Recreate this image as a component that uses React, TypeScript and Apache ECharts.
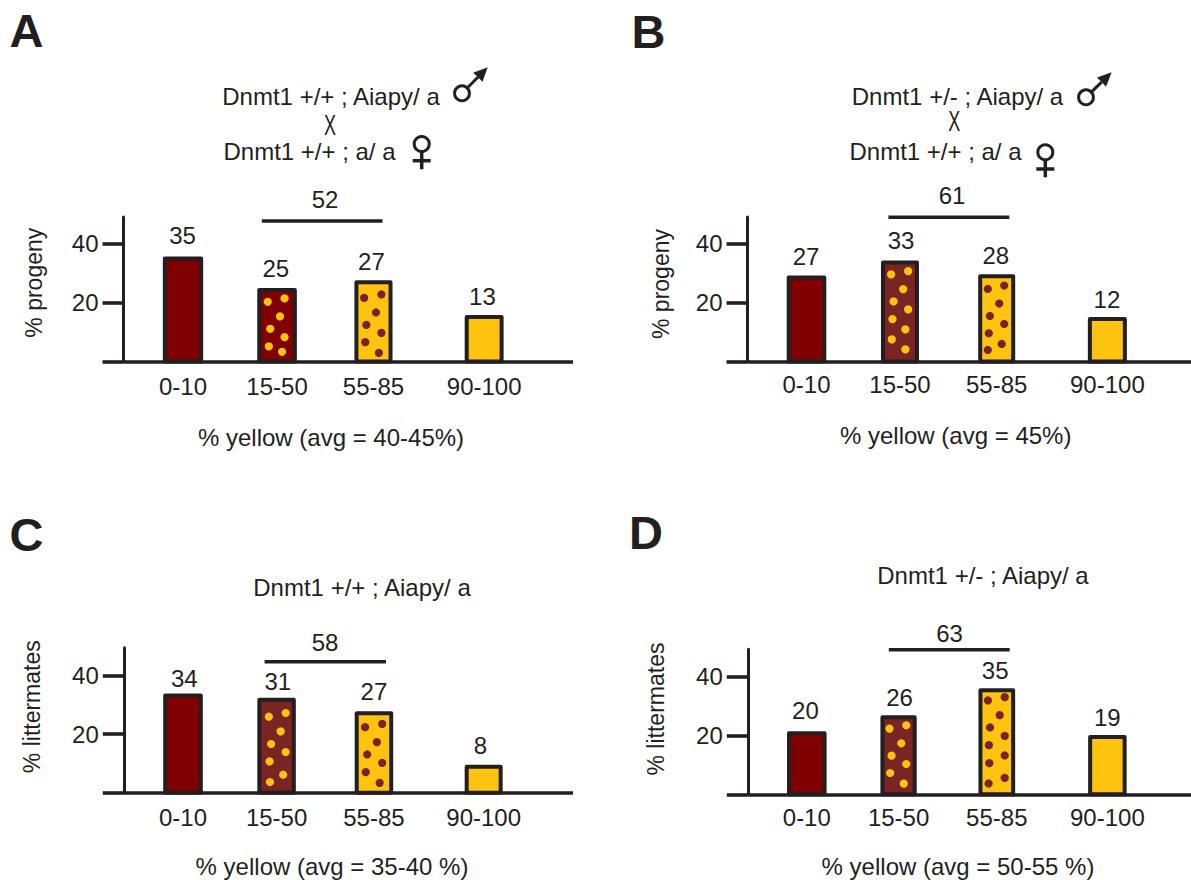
import React, { useEffect, useRef } from "react";
import * as echarts from "echarts";

// ---------- data ----------
const binLabels = ["0-10", "15-50", "55-85", "90-100"];
const tickValues = [20, 40];

const heightsA = [34.9, 24.2, 26.9, 15.1];
const heightsB = [28.5, 33.6, 28.9, 14.4];
const heightsC = [33.2, 31.8, 27.2, 8.9];
const heightsD = [20.7, 26.1, 35.3, 19.4];

const shownA = ["35", "25", "27", "13"];
const shownB = ["27", "33", "28", "12"];
const shownC = ["34", "31", "27", "8"];
const shownD = ["20", "26", "35", "19"];

const slotsA = [0, 0.99, 2.005, 3.17];
const slotsB = [0, 0.984, 2.002, 3.167];
const slotsC = [0, 0.985, 2.01, 3.165];
const slotsD = [0, 0.966, 2.0, 3.164];

// ---------- styling and layout ----------
const INK = "#231f20";
const FONT = "'Liberation Sans', Arial, sans-serif";
const RED = "#800000";
const RED2 = "#7b2424";
const YEL = "#fdc30e";
const DOT_RED = "#7a2226";
const SW = 4;
const UNIT = 95;
const FS = 24;
const TEXT_DY = -1;

type Dots = number[][];
const dA1: Dots = [[-9.3,13.7],[7.5,10.3],[2.9,28.3],[-6.8,40.7],[7.5,49],[-8.2,58.3],[5,63.7]];
const dA2: Dots = [[-9.3,17.7],[7.9,14.3],[2.5,32.3],[-7.1,44.7],[7.9,52.7],[-8.2,62],[5.4,72.7]];
const dB1: Dots = [[-8.9,14],[8.2,10.7],[3.2,28.7],[-6.4,41],[8.2,49],[-7.5,58.7],[5.4,69],[-8.2,79],[5.4,89]];
const dB2: Dots = [[-8.9,14.7],[7.5,11.3],[2.5,29.3],[-6.8,41.7],[7.5,49.7],[-7.9,59],[5,69.7],[-8.9,75.7]];
const dC1: Dots = [[-7.7,19],[9.1,15.3],[4.1,33.7],[-5.5,46.3],[9.1,54.3],[-7,63.7],[6.6,77],[-6.6,84.3]];
const dC2: Dots = [[-8.9,16],[8.2,12.7],[2.9,31],[-6.8,43.3],[8.2,51.7],[-8.2,61],[5.7,71.7]];
const dD1: Dots = [[-9.1,13.3],[7.7,10],[2.7,28],[-7,40.3],[7.7,48.7],[-8.4,57.7],[5.2,68.3]];
const dD2: Dots = [[-8.9,12.3],[7.9,9],[2.9,27],[-6.8,39.3],[7.9,47.7],[-7.9,57],[7.9,67.3],[-7.5,75],[7.9,89.7],[-8.2,95.3]];

const panels = [
  { heights: heightsA, shown: shownA, slots: slotsA, left: 123.5, right: 573, base: 361.5, top: 217, scale: 2.95, origin: 183,
    widths: [40.3, 39.6, 38.1, 38.9], ldx: [-0.5, -1.3, -2, -1.7], ldy: [-21, -20, -18.3, -18.7],
    dots: [null, dA1, dA2, null], mid: RED, tickMargin: 13 },
  { heights: heightsB, shown: shownB, slots: slotsB, left: 747.5, right: 1191, base: 361.5, top: 217, scale: 2.95, origin: 806.5,
    widths: [39.6, 38, 37, 39], ldx: [-0.5, 1, -0.9, -0.4], ldy: [-19.3, -20, -19, -18],
    dots: [null, dB1, dB2, null], mid: RED2, tickMargin: 11 },
  { heights: heightsC, shown: shownC, slots: slotsC, left: 123.8, right: 573, base: 792.7, top: 647.7, scale: 2.925, origin: 183,
    widths: [39.6, 38.5, 38.5, 38], ldx: [1.3, 1.3, 0, -3.2], ldy: [-15, -15.7, -20, -19],
    dots: [null, dC1, dC2, null], mid: RED2, tickMargin: 13 },
  { heights: heightsD, shown: shownD, slots: slotsD, left: 747.8, right: 1191, base: 794.3, top: 649.3, scale: 2.95, origin: 806.8,
    widths: [39.6, 36.3, 36.7, 38.5], ldx: [-1.4, 1, -1.6, -0.1], ldy: [-20.7, -18.3, -17.7, -18],
    dots: [null, dD1, dD2, null], mid: RED2, tickMargin: 11 },
];

const txt = (text: string, x: number, y: number, extra: any = {}, style: any = {}) => ({
  type: "text", x, y: y + TEXT_DY, silent: true, ...extra,
  style: { text, x: 0, y: 0, fill: INK, fontFamily: FONT, fontSize: FS, align: "center", verticalAlign: "middle", ...style },
});

const hline = (x1: number, x2: number, y: number, w = 3.5) => ({
  type: "line", silent: true,
  shape: { x1, y1: y, x2, y2: y },
  style: { stroke: INK, lineWidth: w },
});

const male = (cx: number, cy: number, tx: number, ty: number) => {
  const dx = tx - cx, dy = ty - cy, L = Math.hypot(dx, dy), ux = dx / L, uy = dy / L;
  const r = 7.4, head = 14, half = 6.5;
  const bx = tx - ux * head, by = ty - uy * head;
  return [
    { type: "circle", silent: true, shape: { cx, cy, r }, style: { fill: "none", stroke: INK, lineWidth: 3 } },
    { type: "line", silent: true, shape: { x1: cx + ux * r, y1: cy + uy * r, x2: bx, y2: by }, style: { stroke: INK, lineWidth: 3 } },
    { type: "polygon", silent: true, shape: { points: [[tx, ty], [bx - uy * half, by + ux * half], [bx + uy * half, by - ux * half]] }, style: { fill: INK } },
  ];
};

const female = (cx: number, cy: number, bottom: number, barY: number, barHalf: number) => [
  { type: "circle", silent: true, shape: { cx, cy, r: 7.5 }, style: { fill: "none", stroke: INK, lineWidth: 3 } },
  { type: "line", silent: true, shape: { x1: cx, y1: cy + 7.5, x2: cx, y2: bottom }, style: { stroke: INK, lineWidth: 3.5 } },
  { type: "line", silent: true, shape: { x1: cx - barHalf, y1: barY, x2: cx + barHalf, y2: barY }, style: { stroke: INK, lineWidth: 3.5 } },
];

const chi = (x: number, y: number) => txt("X", x, y + 1, { scaleX: 0.62 }, { fontSize: 29 });
const yName = (text: string, x: number, y: number) => txt(text, x, y + 1, { rotation: Math.PI / 2 }, { fontSize: 23 });
const letter = (text: string, x: number, y: number) => txt(text, x, y + 1, {}, { fontSize: 47, fontWeight: "bold" });

const graphics: any[] = [
  letter("A", 26.5, 30),
  letter("B", 648.5, 31),
  letter("C", 26.5, 534),
  letter("D", 646, 532),

  txt("Dnmt1 +/+ ; Aiapy/ a", 331, 97),
  chi(330, 125),
  txt("Dnmt1 +/+ ; a/ a", 309.5, 152),
  ...male(462, 93.3, 487.7, 67.3),
  ...female(421.7, 144, 169.3, 160.7, 9),

  txt("Dnmt1 +/- ; Aiapy/ a", 957.5, 97),
  chi(954.3, 120.5),
  txt("Dnmt1 +/+ ; a/ a", 935.5, 152),
  ...male(1086, 97.3, 1111.6, 72.3),
  ...female(1045.3, 152.3, 177.3, 169, 9),

  txt("Dnmt1 +/+ ; Aiapy/ a", 362, 588.3),
  txt("Dnmt1 +/- ; Aiapy/ a", 983, 576),

  hline(261.8, 382.5, 221),
  hline(888.4, 1009.3, 217.3),
  hline(264.6, 386, 661.7),
  hline(888.8, 1009.7, 649.7),
  txt("52", 325, 200),
  txt("61", 952, 196.7),
  txt("58", 325, 643.3),
  txt("63", 949.6, 634),

  txt("% yellow (avg = 40-45%)", 331, 438),
  txt("% yellow (avg = 45%)", 955.7, 436.7),
  txt("% yellow (avg = 35-40 %)", 332, 867.8),
  txt("% yellow (avg = 50-55 %)", 958, 867.7),

  yName("% progeny", 34, 282.7),
  yName("% progeny", 661, 284),
  yName("% littermates", 32, 706.7),
  yName("% littermates", 656, 709),
];

const W = 1191;
const H = 880;

function buildOption() {
  const grid: any[] = [], xAxis: any[] = [], yAxis: any[] = [], series: any[] = [];
  panels.forEach((p, i) => {
    grid.push({ left: p.left, width: p.right - p.left, top: p.top, height: p.base - p.top, containLabel: false });
    xAxis.push({
      type: "value", gridIndex: i,
      min: (p.left - p.origin) / UNIT,
      max: (p.right - p.origin) / UNIT,
      splitLine: { show: false },
      axisLine: { show: true, onZero: false, lineStyle: { color: INK, width: 3.6, cap: "butt" } },
      axisTick: { show: false },
      axisLabel: {
        show: true, customValues: p.slots, margin: p.tickMargin, hideOverlap: false,
        color: INK, fontFamily: FONT, fontSize: FS,
        formatter: (v: number) => binLabels[p.slots.indexOf(v)] ?? "",
      },
    });
    yAxis.push({
      type: "value", gridIndex: i, min: 0, max: (p.base - p.top) / p.scale,
      splitLine: { show: false },
      axisLine: { show: true, onZero: false, lineStyle: { color: INK, width: 3 } },
      axisTick: { show: true, length: 21, lineStyle: { color: INK, width: 3.6 }, customValues: [0, ...tickValues] },
      axisLabel: { show: true, customValues: tickValues, margin: 25, padding: [0, 0, 3, 0], color: INK, fontFamily: FONT, fontSize: FS },
    });
    series.push({
      type: "custom", xAxisIndex: i, yAxisIndex: i, clip: false, silent: true, z: 3,
      encode: { x: 0, y: 1 },
      data: p.slots.map((s, k) => [s, p.heights[k]]),
      renderItem: (params: any, api: any) => {
        const k = params.dataIndex;
        const [cx, top] = api.coord([api.value(0), api.value(1)]);
        const [, base] = api.coord([api.value(0), 0]);
        const w = p.widths[k];
        const yellow = k >= 2;
        const fill = yellow ? YEL : k === 1 ? p.mid : RED;
        const children: any[] = [
          {
            type: "rect",
            shape: { x: cx - w / 2 + SW / 2, y: top, width: w - SW, height: base - top },
            style: { fill, stroke: INK, lineWidth: SW, lineJoin: "round" },
          },
        ];
        (p.dots[k] || []).forEach(([dx, dy]: number[]) => {
          children.push({
            type: "circle",
            shape: { cx: cx + dx, cy: top - SW / 2 + dy, r: 4.1 },
            style: { fill: yellow ? DOT_RED : YEL },
          });
        });
        children.push({
          type: "text",
          style: {
            text: p.shown[k], x: cx + p.ldx[k], y: top - SW / 2 + p.ldy[k],
            fill: INK, fontFamily: FONT, fontSize: FS, align: "center", verticalAlign: "middle",
          },
        });
        return { type: "group", children };
      },
    });
  });
  return { animation: false, backgroundColor: "#ffffff", grid, xAxis, yAxis, series, graphic: { elements: graphics } };
}

export default function App() {
  const ref = useRef<HTMLDivElement>(null);
  useEffect(() => {
    const chart = echarts.init(ref.current!, undefined, { renderer: "svg" });
    chart.setOption(buildOption() as any);
    return () => chart.dispose();
  }, []);
  return <div ref={ref} style={{ position: "fixed", left: 0, top: 0, width: W, height: H }} />;
}
